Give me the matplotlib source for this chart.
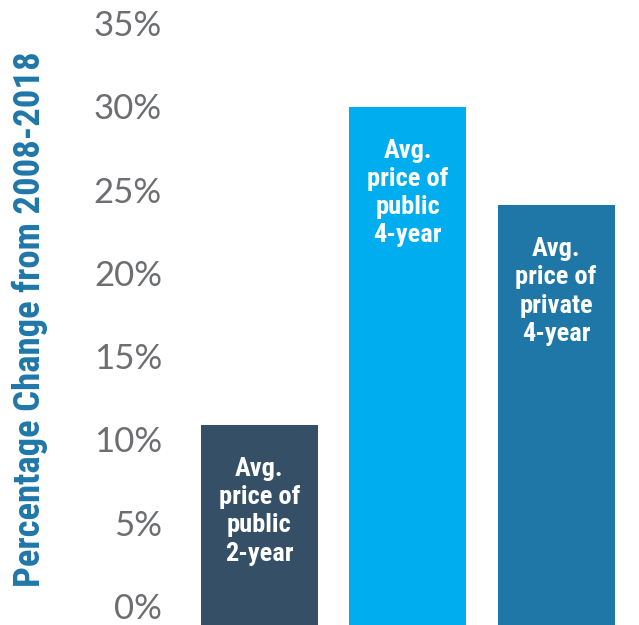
import matplotlib
matplotlib.use('Agg')
import matplotlib.pyplot as plt
from matplotlib.ticker import FuncFormatter

# Data
labels = ['Avg.\nprice of\npublic\n2-year', 'Avg.\nprice of\npublic\n4-year', 'Avg.\nprice of\nprivate\n4-year']
values = [12.0, 31.1, 25.2]
colors = ['#344f66', '#00aeef', '#1f77a8']
yticks = [0, 5, 10, 15, 20, 25, 30, 35]

narrow = ['Roboto Condensed', 'Liberation Sans Narrow', 'Roboto', 'DejaVu Sans']
light = ['Lato', 'DejaVu Sans']

fig = plt.figure(figsize=(6.39, 6.25), dpi=100)
ax = fig.add_axes([180 / 639, 0, 1 - 180 / 639, (625 - 42) / 625])

x = list(range(len(values)))
bars = ax.bar(x, values, width=0.788, color=colors)

for xi, v, lab in zip(x, values, labels):
    ax.annotate(lab, (xi, v), xytext=(0, -23), textcoords='offset points',
                ha='center', va='top', color='white', fontsize=19,
                fontweight='bold', family=narrow, linespacing=1.22)

ax.set_ylim(0, 35)
ax.set_xlim(-0.535, 2.559)
ax.set_yticks(yticks)
ax.yaxis.set_major_formatter(FuncFormatter(lambda v, p: f'{v:.0f}%'))
ax.set_xticks([])
ax.tick_params(axis='y', length=0, pad=13, labelsize=25, labelcolor='#6d6e71')
for t in ax.get_yticklabels():
    t.set_verticalalignment('bottom')
    t.set_fontweight('normal')
    t.set_family(light)
for s in ax.spines.values():
    s.set_visible(False)

fig.text(30 / 639, 0.5 - 7 / 625, 'Percentage Change from 2008-2018', rotation=90,
         ha='center', va='center', color='#1f77a8', fontsize=26.5,
         fontweight='bold', family=narrow)

fig.savefig('out.png', dpi=100)
